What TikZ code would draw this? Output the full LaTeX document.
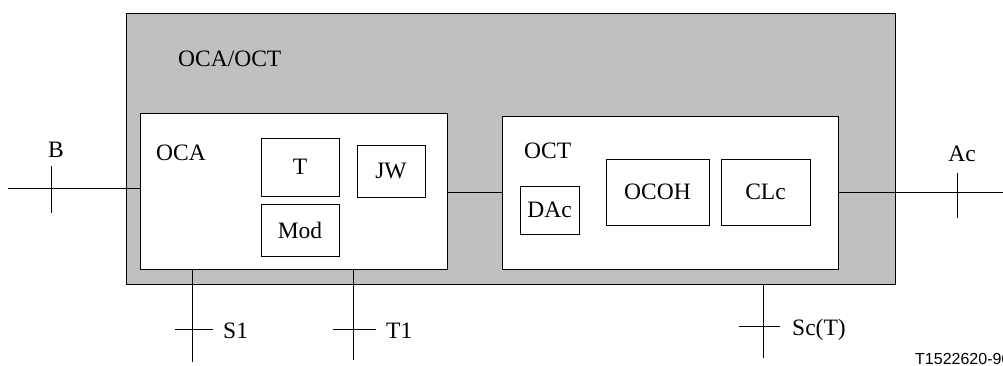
\documentclass[tikz,border=0pt]{standalone}
\usepackage{fontspec}
\setmainfont{Liberation Serif}
\newfontfamily\figsans{Liberation Sans}
\definecolor{shade}{RGB}{192,192,192}
\tikzset{
  box/.style = {draw, line width=1pt, inner sep=0pt, font=\fontsize{23.5}{28}\selectfont},
  lbl/.style = {inner sep=0pt, font=\fontsize{23.5}{28}\selectfont},
  wire/.style = {line width=1pt},
}

\begin{document}
\begin{tikzpicture}[x = 1pt, y = -1pt]
\useasboundingbox (0,0) rectangle (1003,365);
% outer grey block
\node [box, fill=shade, minimum width=769pt, minimum height=271pt] (outer) at (510.5,148.5) {};
\node [lbl, anchor=base west] (outerlbl) at (178,66) {OCA/OCT};
% OCA part
\node [box, fill=white, minimum width=307pt, minimum height=156pt] (oca) at (293.5,191) {};
\node [lbl, anchor=base west] (ocalbl) at (156,160.5) {OCA};
\node [box, minimum width=78pt, minimum height=58pt] (t) at (300,167) {T};
\node [box, minimum width=78pt, minimum height=52pt] (mod) at (300,230) {Mod};
\node [box, minimum width=68pt, minimum height=52pt] (jw) at (391,171) {JW};
% OCT part
\node [box, fill=white, minimum width=336pt, minimum height=153pt] (oct) at (670,192.5) {};
\node [lbl, anchor=base west] (octlbl) at (524,158) {OCT};
\node [box, minimum width=59pt, minimum height=48pt] (dac) at (549.5,210) {DAc};
\node [box, minimum width=103pt, minimum height=66pt] (ocoh) at (657.5,192) {OCOH};
\node [box, minimum width=89pt, minimum height=66pt] (clc) at (765.5,192) {CLc};
% interfaces
\coordinate (b) at (8,188);
\coordinate (ac) at (1003,192.5);
\coordinate (s1) at (192,362);
\coordinate (t1) at (353,360);
\coordinate (sc) at (763,358);
\draw [wire] (b) -- (b -| oca.west);
\draw [wire] (oct.west -| oca.east) -- (oct.west);
\draw [wire] (oct.east) -- (ac);
\draw [wire] (s1 |- oca.south) -- (s1);
\draw [wire] (t1 |- oca.south) -- (t1);
\draw [wire] (sc |- outer.south) -- (sc);
% reference points (ticks)
\draw [wire] (51,166) -- (51,213);
\draw [wire] (957,173) -- (957,218);
\draw [wire] (175,329) -- (213,329);
\draw [wire] (333,329) -- (376,329);
\draw [wire] (739,326) -- (780,326);
\node [lbl, anchor=base] (blbl) at (56,157) {B};
\node [lbl, anchor=base] (aclbl) at (962,161) {Ac};
\node [lbl, anchor=base west] (s1lbl) at (223,338) {S1};
\node [lbl, anchor=base west] (t1lbl) at (386,338) {T1};
\node [lbl, anchor=base west] (sclbl) at (792,335) {Sc(T)};
\node [inner sep=0pt, anchor=base west, font=\figsans\fontsize{16}{19}\selectfont] (code) at (915,364.5) {T1522620-96};
\end{tikzpicture}
\end{document}
